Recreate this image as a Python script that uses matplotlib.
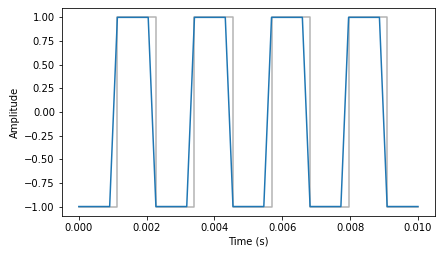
import numpy as np
import matplotlib
matplotlib.use("Agg")
import matplotlib.pyplot as plt

# continuous square wave (440 Hz), edge times and levels
edge_times = [0.0, 0.001136, 0.002273, 0.003409, 0.004545, 0.005682,
              0.006818, 0.007955, 0.009091, 0.010]
edge_levels = [-1, 1, -1, 1, -1, 1, -1, 1, -1, -1]

# sampled version (4400 Hz sample grid)
sample_rate = 4400
sample_values = [-1, -1, -1, -1, -1, 1, 1, 1, 1, 1,
                 -1, -1, -1, -1, -1, 1, 1, 1, 1, 1,
                 -1, -1, -1, -1, -1, 1, 1, 1, 1, 1,
                 -1, -1, -1, -1, -1, 1, 1, 1, 1, 1,
                 -1, -1, -1, -1, -1]
sample_times = np.arange(len(sample_values)) / sample_rate

fig, ax = plt.subplots(figsize=(442 / 72, 255 / 72), dpi=72)
fig.subplots_adjust(left=0.140, right=0.984, top=0.969, bottom=0.153)

ax.plot(edge_times, edge_levels, drawstyle="steps-post", color="gray",
        alpha=0.6, linewidth=1.5)
ax.plot(sample_times, sample_values, color="C0", linewidth=1.5)

ax.set_xlabel("Time (s)")
ax.set_ylabel("Amplitude")

fig.savefig("out.png", dpi=72)
